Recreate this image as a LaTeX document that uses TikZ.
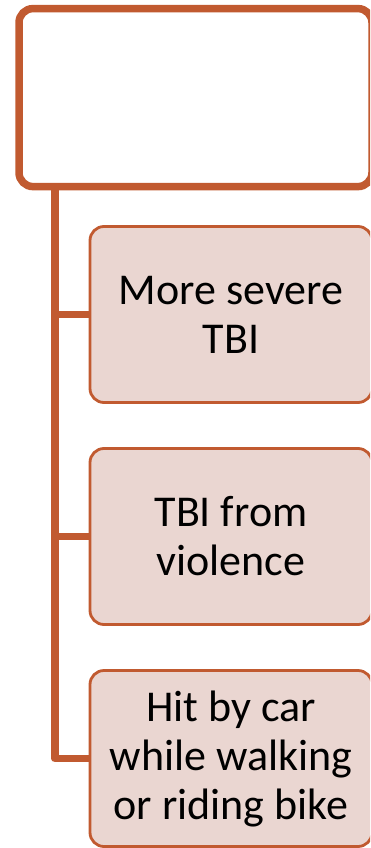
\documentclass[tikz,border=0pt]{standalone}
\usepackage{fontspec}
\setmainfont{Carlito}
\definecolor{rust}{RGB}{193,90,48}
\definecolor{blush}{RGB}{234,214,209}
\tikzset{
  headbox/.style={draw=rust, line width=7.5pt, fill=white, rounded corners=14pt,
    minimum width=353pt, minimum height=178pt, inner sep=0pt},
  itembox/.style={draw=rust, line width=2.8pt, fill=blush, rounded corners=14pt,
    minimum width=282pt, minimum height=176pt, inner sep=0pt, align=center,
    font=\fontsize{44}{49}\selectfont},
  link/.style={draw=rust, line width=7.5pt, line join=round}
}
\begin{document}
\begin{tikzpicture}[x=1pt, y=-1pt]
  \useasboundingbox (0,0) rectangle (370,848);
  \clip (0,0) rectangle (370,848);
  % trunk position
  \coordinate (tx) at (55,0);
  % header and item boxes
  \node[headbox] (head) at (195.5,97.6) {};
  \node[itembox] (c1) at (231,314.5) {More severe\\TBI};
  \node[itembox] (c2) at (231,536.5) {TBI from\\violence};
  \node[itembox] (c3) at (231,758.5) {Hit by car\\while walking\\or riding bike};
  % connectors
  \draw[link] (head.south -| tx) |- (c3.west);
  \draw[link] (c1.west -| tx) -- (c1.west);
  \draw[link] (c2.west -| tx) -- (c2.west);
\end{tikzpicture}
\end{document}
